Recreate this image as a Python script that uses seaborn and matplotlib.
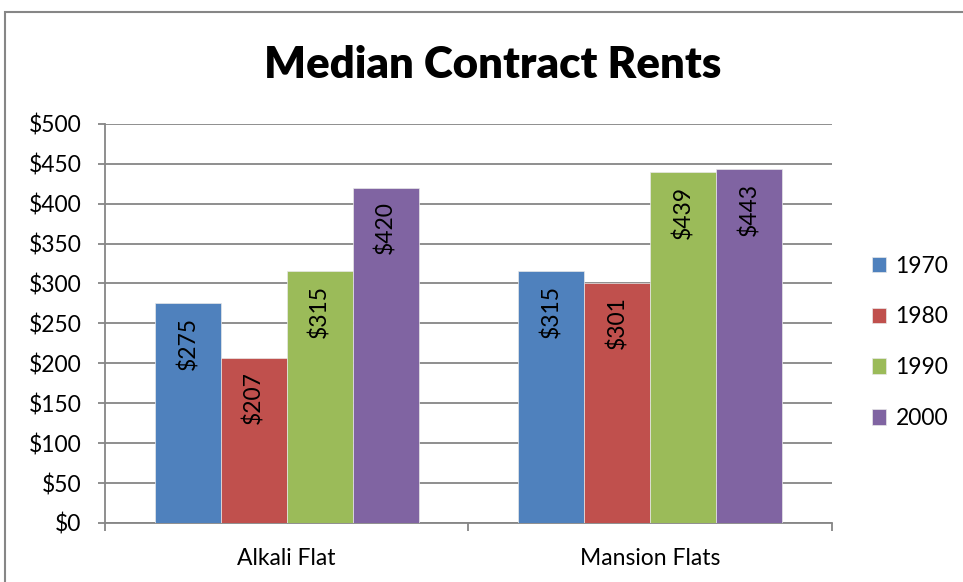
import pandas as pd
import matplotlib.pyplot as plt
import seaborn as sns
from matplotlib.patches import Rectangle
from matplotlib.ticker import FuncFormatter, FixedLocator

# Chart data
neighborhoods = ['Alkali Flat', 'Mansion Flats']
years = ['1970', '1980', '1990', '2000']
rents_alkali = [275, 207, 315, 420]
rents_mansion = [315, 301, 439, 443]
colors = ['#4F81BD', '#C0504D', '#9BBB59', '#8064A2']

def build_frame():
    rows = []
    for hood, vals in zip(neighborhoods, [rents_alkali, rents_mansion]):
        for yr, v in zip(years, vals):
            rows.append({'neighborhood': hood, 'year': yr, 'rent': v})
    return pd.DataFrame(rows)

def plot_rents(df):
    sns.set_style('white')
    plt.rcParams['font.family'] = ['Lato', 'DejaVu Sans']
    plt.rcParams['text.color'] = 'black'
    plt.rcParams['xtick.labelcolor'] = 'black'
    plt.rcParams['ytick.labelcolor'] = 'black'

    fig = plt.figure(figsize=(9.63, 5.82), dpi=100)
    ax = fig.add_axes([0.109, 0.1014, 0.755, 0.686])

    sns.barplot(data=df, x='neighborhood', y='rent', hue='year',
                order=neighborhoods, hue_order=years, palette=colors,
                saturation=1, width=0.725, ax=ax, zorder=3,
                edgecolor='#e8e8e8', linewidth=0.5)

    # value labels inside the top of each bar
    for cont in ax.containers:
        for bar in cont:
            h = bar.get_height()
            ax.annotate(f'${h:.0f}', (bar.get_x() + bar.get_width() / 2, h),
                        xytext=(0, -10), textcoords='offset points',
                        rotation=90, ha='center', va='top', fontsize=16.5,
                        color='black', zorder=4)

    grid_col = '#868686'
    ax.set_ylim(0, 500)
    ax.set_xlim(-0.5, 1.5)
    ax.set_yticks(range(0, 501, 50))
    ax.yaxis.set_major_formatter(FuncFormatter(lambda v, p: f'${v:.0f}'))
    ax.yaxis.grid(True, color=grid_col, linewidth=1.3, zorder=0)
    ax.set_axisbelow(True)

    for s in ['top', 'right']:
        ax.spines[s].set_visible(False)
    for s in ['left', 'bottom']:
        ax.spines[s].set_color(grid_col)
        ax.spines[s].set_linewidth(1.3)

    ax.tick_params(axis='y', which='major', direction='out', length=5,
                   width=1.3, color=grid_col, pad=12, labelsize=16.5,
                   labelcolor='black', left=True)
    ax.tick_params(axis='x', which='major', length=0, pad=18, labelsize=16.5,
                   labelcolor='black')
    ax.xaxis.set_minor_locator(FixedLocator([-0.5, 0.5, 1.5]))
    ax.tick_params(axis='x', which='minor', direction='out', length=6,
                   width=1.3, color=grid_col, bottom=True)
    ax.set_xlabel('')
    ax.set_ylabel('')

    handles, labels = ax.get_legend_handles_labels()
    leg = ax.legend(handles, labels, loc='center left',
                    bbox_to_anchor=(0.905, 0.412),
                    bbox_transform=fig.transFigure, frameon=False,
                    fontsize=16.5, handlelength=0.65, handleheight=0.65,
                    handletextpad=0.4, labelspacing=1.3, borderpad=0,
                    borderaxespad=0)
    for t in leg.get_texts():
        t.set_color('black')

    fig.text(0.512, 0.888, 'Median Contract Rents', ha='center', va='center',
             fontsize=31.5, fontweight='heavy', color='black')

    # chart area border
    fig.patches.append(Rectangle((0.0055, -0.1), 1.2, 1.1 - 0.0206,
                                 transform=fig.transFigure, fill=False,
                                 edgecolor=grid_col, linewidth=1.5))

    fig.savefig('out.png', dpi=100)

if __name__ == '__main__':
    data = build_frame()
    plot_rents(data)
